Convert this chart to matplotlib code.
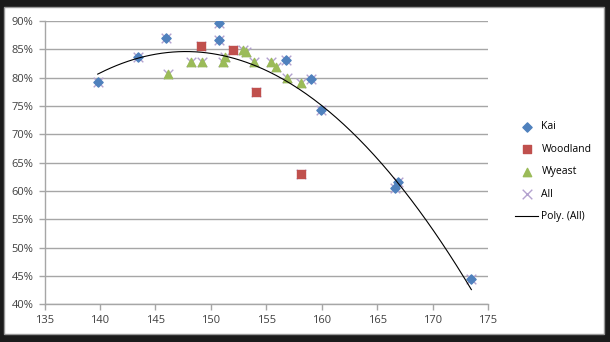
import numpy as np
import matplotlib.pyplot as plt
from matplotlib.patches import Rectangle
from matplotlib.ticker import FuncFormatter

kai_x = [139.8, 143.4, 146.0, 150.7, 150.7, 156.8, 159.0, 159.9, 166.6, 166.9, 173.5]
kai_y = [79.2, 83.6, 87.0, 89.6, 86.6, 83.1, 79.8, 74.3, 60.5, 61.5, 44.4]

woodland_x = [149.1, 152.0, 154.1, 158.1]
woodland_y = [85.5, 84.9, 77.5, 63.0]

wyeast_x = [146.1, 148.2, 149.2, 151.1, 151.3, 152.9, 153.2, 153.9, 155.4, 155.9, 156.9, 158.1]
wyeast_y = [80.7, 82.8, 82.8, 82.8, 83.7, 84.8, 84.5, 82.8, 82.8, 81.9, 79.9, 79.0]

all_x = np.array(kai_x + woodland_x + wyeast_x)
all_y = np.array(kai_y + woodland_y + wyeast_y)

plt.rcParams.update({
    "font.size": 8,
    "font.family": ["Open Sans", "DejaVu Sans"],
})

fig = plt.figure(figsize=(6.1, 3.42), dpi=100)
fig.patch.set_facecolor("#1b1b1b")

# white chart panel
fig.patches.append(Rectangle((4 / 610, 1 - 333.5 / 342), 600 / 610, 326.5 / 342,
                             transform=fig.transFigure, facecolor="white",
                             edgecolor="#9a9a9a", linewidth=1.0, zorder=-10))

ax = fig.add_axes([44.5 / 610, 1 - 304.3 / 342, 443.5 / 610, 283.3 / 342])
ax.set_facecolor("white")

ax.scatter(all_x, all_y, marker="x", s=48, color="#b3a2cf", linewidths=1.0,
           label="All", zorder=2)
ax.scatter(kai_x, kai_y, marker="D", s=22, color="#4f81bd", label="Kai", zorder=3)
ax.scatter(woodland_x, woodland_y, marker="s", s=40, color="#c0504d",
           label="Woodland", zorder=3)
ax.scatter(wyeast_x, wyeast_y, marker="^", s=36, color="#9bbb59",
           label="Wyeast", zorder=3)

coef = np.polyfit(all_x, all_y, 2)
xs = np.linspace(all_x.min(), all_x.max(), 200)
ax.plot(xs, np.polyval(coef, xs), color="black", linewidth=0.8,
        label="Poly. (All)", zorder=4)

ax.set_xlim(135, 175)
ax.set_ylim(40, 90)
ax.set_xticks(np.arange(135, 176, 5))
ax.set_yticks(np.arange(40, 91, 5))
ax.yaxis.set_major_formatter(FuncFormatter(lambda v, p: f"{v:.0f}%"))
ax.grid(axis="y", color="#a6a6a6", linewidth=1.0)
ax.set_axisbelow(True)
for s in ["top", "right"]:
    ax.spines[s].set_visible(False)
for s in ["left", "bottom"]:
    ax.spines[s].set_color("#a6a6a6")
    ax.spines[s].set_linewidth(1.0)
ax.tick_params(colors="#a6a6a6", labelcolor="#404040", length=4, width=1.0, pad=4)

handles, labels = ax.get_legend_handles_labels()
order = [1, 2, 3, 0, 4]
fig.legend([handles[i] for i in order], [labels[i] for i in order],
           loc="upper left", bbox_to_anchor=(506 / 610, 1 - 112 / 342),
           frameon=False, labelspacing=1.1, handlelength=2.2, handletextpad=0.3,
           fontsize=7.5)

fig.savefig("out.png", dpi=100, facecolor=fig.get_facecolor())
